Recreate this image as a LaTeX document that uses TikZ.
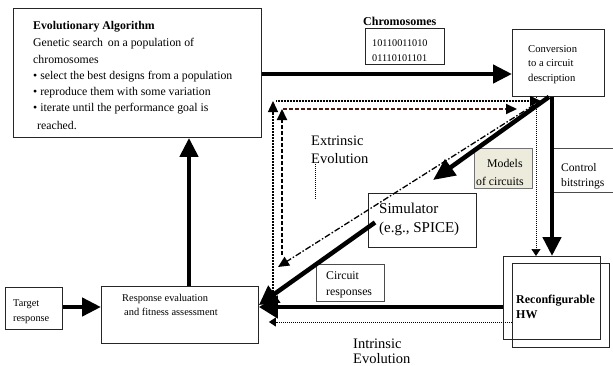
\documentclass[tikz,border=0pt]{standalone}
\usepackage{fontspec}
\setmainfont{Liberation Serif}
\usetikzlibrary{arrows.meta,calc}
\definecolor{modelfill}{HTML}{ECEBDC}
\definecolor{rust}{RGB}{75,28,20}
\newcommand\fsz[1]{\fontsize{#1}{#1}\selectfont}
\begin{document}
\begin{tikzpicture}[x=1pt,y=-1pt,
  box/.style={draw=black!85, line width=0.9pt, inner sep=0pt, anchor=north west},
  txt/.style={inner sep=0pt, anchor=base west},
  heavy/.style={line width=4.5pt, -{Triangle[length=19pt,width=18pt]}},
  dots/.style={line width=1.3pt, dash pattern=on 1pt off 0.5pt},
  finedots/.style={line width=0.7pt, dash pattern=on 1pt off 1pt},
  dashes/.style={line width=2pt, dash pattern=on 4pt off 2pt},
  dashdot/.style={line width=1.3pt, dash pattern=on 6pt off 2pt on 1.5pt off 2pt},
  smallhead/.style={-{Triangle[length=11pt,width=10pt,color=black]}},
  tinyhead/.style={-{Triangle[length=7pt,width=9pt]}}]
\useasboundingbox (0,0) rectangle (613,365);
\clip (0,0) rectangle (613,365);

% ---------- boxes ----------
\node[box, minimum width=248pt, minimum height=129pt] (ea) at (13,8) {};
\node[box, minimum width=79pt, minimum height=36pt] (chrom) at (365,28) {};
\node[box, minimum width=92pt, minimum height=67pt] (conv) at (512,29) {};
\node[box, minimum width=57pt, minimum height=42pt] (tgt) at (5,287) {};
\node[box, minimum width=157pt, minimum height=57pt] (resp) at (101,286) {};
\node[box, minimum width=108pt, minimum height=54pt, fill=white] (sim) at (368,193) {};
\node[box, minimum width=68pt, minimum height=37pt, draw=black!70] (cresp) at (316,264) {};
\node[box, minimum width=58pt, minimum height=40pt, fill=modelfill, draw=black!55] (models) at (474,148) {};
\node[box, minimum width=66pt, minimum height=44pt, draw=black!70] (ctrl) at (552,148) {};
\node[box, minimum width=97pt, minimum height=83pt] (hw1) at (503,256) {};
\node[box, minimum width=97pt, minimum height=84pt] (hw2) at (512,263) {};

% ---------- texts ----------
\node[txt, font=\fsz{11.8}\bfseries] (eaT0) at (33,29.5) {Evolutionary Algorithm};
\node[txt, font=\fsz{11.8}] (eaT1) at (33,46.5) {Genetic search\, on a population of};
\node[txt, font=\fsz{11.8}] (eaT2) at (33,63.5) {chromosomes};
\node[txt, font=\fsz{11.8}] (eaT3) at (33,79.5) {• select the best designs from a population};
\node[txt, font=\fsz{11.8}] (eaT4) at (33,95.5) {• reproduce them with some variation};
\node[txt, font=\fsz{11.8}] (eaT5) at (33,111.5) {• iterate until the performance goal is};
\node[txt, font=\fsz{11.8}] (eaT6) at (37,129) {reached.};

\node[txt, font=\fsz{12}\bfseries] (chromT) at (363,25.5) {Chromosomes};
\node[txt, font=\fsz{10.2}] (bits1) at (372,46.5) {10110011010};
\node[txt, font=\fsz{10.2}] (bits2) at (372,61.5) {01110101101};

\node[txt, font=\fsz{10.6}] (convT1) at (528,52.5) {Conversion};
\node[txt, font=\fsz{10.6}] (convT2) at (528,66.5) {to a circuit};
\node[txt, font=\fsz{10.6}] (convT3) at (528,81) {description};

\node[txt, font=\fsz{10.3}] (tgtT1) at (13,306) {Target};
\node[txt, font=\fsz{10.3}] (tgtT2) at (13,321) {response};

\node[txt, font=\fsz{10.4}] (respT1) at (122,301) {Response evaluation};
\node[txt, font=\fsz{10.4}] (respT2) at (124,315.5) {and fitness assessment};

\node[txt, font=\fsz{15}] (simT1) at (379,213) {Simulator};
\node[txt, font=\fsz{15}] (simT2) at (379,232.5) {(e.g., SPICE)};

\node[txt, font=\fsz{11.8}] (crespT1) at (326,279.5) {Circuit};
\node[txt, font=\fsz{11.8}] (crespT2) at (326,295.5) {responses};

\node[txt, font=\fsz{11.8}] (modelsT1) at (487,167) {Models};
\node[txt, font=\fsz{11.8}] (modelsT2) at (476,185) {of circuits};

\node[txt, font=\fsz{11.6}] (ctrlT1) at (561,171) {Control};
\node[txt, font=\fsz{11.6}] (ctrlT2) at (561,186.5) {bitstrings};

\node[txt, font=\fsz{12}\bfseries] (hwT1) at (516,303.5) {Reconfigurable};
\node[txt, font=\fsz{12}\bfseries] (hwT2) at (516,318.5) {HW};

\node[txt, font=\fsz{14.5}] (extT1) at (311,145.5) {Extrinsic};
\node[txt, font=\fsz{14.5}] (extT2) at (311,163) {Evolution};
\node[txt, font=\fsz{14.5}] (intT1) at (353,348) {Intrinsic};
\node[txt, font=\fsz{14.5}] (intT2) at (353,363) {Evolution};

% ---------- free ends ----------
\coordinate (simin) at (433,180);
\coordinate (loopL) at (273,295);
\coordinate (loopTL) at (273,101);
\coordinate (loopTR) at (541,101);
\coordinate (dashB) at (282,255);
\coordinate (dashTL) at (282,109);
\coordinate (dashTR) at (517,109);
\coordinate (ddEnd) at (278,267);
\coordinate (extA) at (315,164);
\coordinate (extB) at (315,200);

% ---------- extrinsic loop (thin paths) ----------
\draw[dots, smallhead] (loopL) -- (loopTL);
\draw[dots, smallhead] ($(loopTL)+(3,0)$) -- (loopTR);
\draw[finedots, tinyhead] (conv.south -| 536,0) -- (hw1.north -| 536,0);
\draw[dashes, smallhead] (dashB) -- (dashTL);
\draw[dashes, draw=rust, smallhead] ($(dashTL)+(1,0)$) -- (dashTR);
\draw[dashdot, smallhead] ($(conv.south -| 534,0)+(0,8)$) -- (ddEnd);
\draw[finedots] (extA) -- (extB);
\draw[finedots, tinyhead] (hw2.west |- 0,322) -- ($(resp.east |- 0,322)+(10,0)$);

% ---------- main flow (heavy arrows) ----------
\draw[heavy] (ea.east |- 0,74) -- (conv.west |- 0,74);
\draw[heavy] (resp.north -| 189,0) -- (ea.south -| 189,0);
\draw[heavy] (tgt.east |- 0,307) -- (resp.west |- 0,307);
\draw[heavy, -{Triangle[length=19pt,width=22pt]}] (hw1.west |- 0,307) -- (resp.east |- 0,307);
\draw[heavy, -{Triangle[length=19pt,width=20pt]}] ($(sim.west)+(7,2)$) -- (resp.east |- 0,305);
\draw[heavy, -{Triangle[length=22pt,width=19pt]}] (conv.south -| 549,0) -- (simin);
\draw[heavy] (conv.south -| 552,0) -- (hw1.north -| 552,0);
\end{tikzpicture}
\end{document}
